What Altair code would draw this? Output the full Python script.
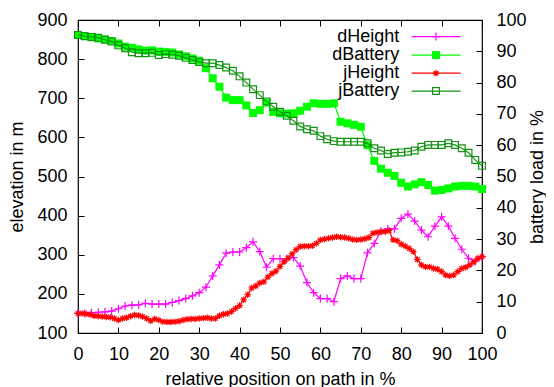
import altair as alt
import pandas as pd

# ---------------- data ----------------
# d-series and jBattery: 61 samples over the path (every 5/3 %)
pos_d = [round(i * 100 / 60, 3) for i in range(61)]

dHeight = [150, 150, 152, 153, 154, 156, 162, 169, 171, 172,
           176, 174, 174, 174, 178, 183, 188, 195, 203, 217,
           246, 274, 304, 307, 307, 318, 333, 308, 268, 290,
           290, 290, 293, 271, 229, 203, 188, 188, 180, 239,
           246, 239, 239, 305, 329, 360, 366, 366, 393, 404,
           386, 363, 346, 373, 397, 373, 342, 314, 291, 283,
           295]

dBattery = [95.2, 94.9, 94.5, 94.1, 93.8, 93.3, 92.5, 91.5, 91.1, 90.6,
            90.2, 90.3, 89.9, 89.8, 89.6, 89.0, 88.4, 87.7, 87.0, 84.6,
            81.4, 78.7, 75.2, 74.4, 74.4, 72.7, 70.3, 71.2, 73.6, 70.6,
            70.2, 70.1, 70.2, 71.0, 72.3, 73.4, 73.2, 73.2, 73.4, 67.5,
            67.0, 66.5, 65.9, 60.0, 55.0, 52.5, 51.2, 50.2, 48.0, 46.8,
            47.5, 48.2, 47.3, 45.5, 45.7, 46.2, 46.8, 47.0, 47.0, 46.8,
            46.0]

jBattery = [95.2, 94.8, 94.6, 94.3, 93.7, 93.1, 91.9, 91.0, 89.7, 89.4,
            89.4, 89.5, 88.8, 89.1, 88.9, 88.6, 87.9, 87.2, 86.6, 86.2,
            86.2, 85.6, 84.8, 83.8, 82.0, 80.0, 77.9, 76.0, 74.0, 72.3,
            70.7, 69.4, 67.8, 66.0, 65.1, 64.6, 62.9, 61.9, 61.3, 61.1,
            61.1, 61.1, 61.1, 60.6, 59.0, 58.3, 57.2, 57.6, 57.7, 57.9,
            58.3, 59.5, 60.1, 60.1, 60.1, 60.6, 60.1, 59.0, 57.6, 55.3,
            53.4]

# jHeight: dense samples, every 1 %
pos_j = list(range(101))
jHeight = [150, 150, 149, 147, 144, 143, 142, 141, 140, 137,
           133, 137, 139, 143, 146, 145, 142, 137, 131, 136,
           133, 129, 128, 128, 129, 130, 133, 135, 136, 136,
           137, 138, 139, 137, 137, 144, 148, 150, 155, 163,
           170, 185, 198, 215, 220, 228, 231, 243, 252, 258,
           270, 282, 291, 302, 313, 321, 322, 322, 323, 329,
           338, 340, 342, 344, 346, 345, 344, 342, 339, 338,
           339, 341, 344, 355, 357, 359, 359, 362, 338, 336,
           327, 322, 316, 308, 288, 274, 269, 269, 265, 263,
           257, 248, 246, 248, 257, 265, 268, 274, 282, 291,
           295]

x_ticks = [0, 10, 20, 30, 40, 50, 60, 70, 80, 90, 100]
elev_ticks = [100, 200, 300, 400, 500, 600, 700, 800, 900]
batt_ticks = [0, 10, 20, 30, 40, 50, 60, 70, 80, 90, 100]

legend_labels = ["dHeight", "dBattery", "jHeight", "jBattery"]
legend_rows = [94.7, 88.8, 83.0, 77.3]      # in battery-axis units
legend_text_x = 79.5
legend_line_x = [82.6, 94.7]
legend_mark_x = 88.6

# ---------------- styles ----------------
FONT = "Liberation Sans"
FS = 18
PLUS = "M-1,0L1,0M0,-1L0,1"
STAR = "M-1,0L1,0M0,-1L0,1M-0.7,-0.7L0.7,0.7M-0.7,0.7L0.7,-0.7"
styles = {
    "dHeight": dict(color="#ff00ff", shape=PLUS, filled=False, size=64),
    "dBattery": dict(color="#00ff00", shape="square", filled=True, size=64),
    "jHeight": dict(color="#ff0000", shape=STAR, filled=False, size=42),
    "jBattery": dict(color="#129412", shape="square", filled=False, size=46),
}

xscale = alt.Scale(domain=[0, 100], nice=False, zero=False)
yscale_l = alt.Scale(domain=[100, 900], nice=False, zero=False)
yscale_r = alt.Scale(domain=[0, 100], nice=False, zero=False)

common_axis = dict(tickSize=6, offset=-6, domain=False, grid=False, labelFlush=False,
                   tickColor="black", labelColor="black", titleColor="black",
                   labelFont=FONT, titleFont=FONT, labelFontSize=FS,
                   titleFontSize=FS, titleFontWeight="normal")

x_axis_bottom = alt.Axis(orient="bottom", values=x_ticks, labelPadding=12,
                         title="relative position on path in %", titlePadding=7,
                         **common_axis)
x_axis_top = alt.Axis(orient="top", values=x_ticks, labels=False, title=None,
                      **common_axis)
y_axis_left = alt.Axis(orient="left", values=elev_ticks, labelPadding=11,
                       title="elevation in m", titlePadding=10, **common_axis)
y_axis_right = alt.Axis(orient="right", values=batt_ticks, labelPadding=14,
                        title="battery load in %", titlePadding=2,
                        titleAngle=270, titleBaseline="top", **common_axis)


def series(df, yfield, name, axis_x, scale_y, axis_y):
    st = styles[name]
    base = alt.Chart(df).encode(
        x=alt.X("x:Q", scale=xscale, axis=axis_x),
        y=alt.Y(f"{yfield}:Q", scale=scale_y, axis=axis_y),
    )
    line = base.mark_line(color=st["color"], strokeWidth=1.2)
    pts = base.mark_point(shape=st["shape"], filled=st["filled"], color=st["color"],
                          size=st["size"], strokeWidth=1.2, opacity=1)
    return [line, pts]


df_d = pd.DataFrame({"x": pos_d, "dHeight": dHeight, "dBattery": dBattery,
                     "jBattery": jBattery})
df_j = pd.DataFrame({"x": pos_j, "jHeight": jHeight})

left_layers = []
left_layers += series(df_d, "dHeight", "dHeight", x_axis_bottom, yscale_l, y_axis_left)
left_layers += series(df_j, "jHeight", "jHeight", x_axis_bottom, yscale_l, y_axis_left)

right_layers = []
right_layers += series(df_d, "dBattery", "dBattery", x_axis_top, yscale_r, y_axis_right)
right_layers += series(df_d, "jBattery", "jBattery", x_axis_top, yscale_r, y_axis_right)

# legend (gnuplot style: label, then line sample with marker)
for lab, row in zip(legend_labels, legend_rows):
    st = styles[lab]
    ldf = pd.DataFrame({"lx": [legend_text_x], "lx1": [legend_line_x[0]],
                        "lx2": [legend_line_x[1]], "mx": [legend_mark_x],
                        "ly": [row], "label": [lab]})
    yenc = alt.Y("ly:Q", scale=yscale_r, axis=y_axis_right)
    right_layers.append(alt.Chart(ldf).mark_text(
        align="right", baseline="middle", font=FONT, fontSize=FS, color="black"
    ).encode(x=alt.X("lx:Q", scale=xscale, axis=x_axis_top), y=yenc, text="label:N"))
    right_layers.append(alt.Chart(ldf).mark_rule(color=st["color"], strokeWidth=1.2).encode(
        x=alt.X("lx1:Q", scale=xscale, axis=x_axis_top), x2="lx2:Q", y=yenc))
    right_layers.append(alt.Chart(ldf).mark_point(
        shape=st["shape"], filled=st["filled"], color=st["color"], size=st["size"],
        strokeWidth=1.2, opacity=1
    ).encode(x=alt.X("mx:Q", scale=xscale, axis=x_axis_top), y=yenc))

left = alt.layer(*left_layers)
right = alt.layer(*right_layers)

chart = alt.layer(left, right).resolve_scale(y="independent").resolve_axis(
    x="independent", y="independent"
).properties(
    width=404, height=313,
    padding={"left": 70, "top": 12, "right": 64, "bottom": 54},
    autosize=alt.AutoSizeParams(type="none"),
    background="white",
).configure_view(stroke="black", strokeWidth=1.2)

chart.save("out.html", embed_options={"renderer": "svg", "actions": False})
